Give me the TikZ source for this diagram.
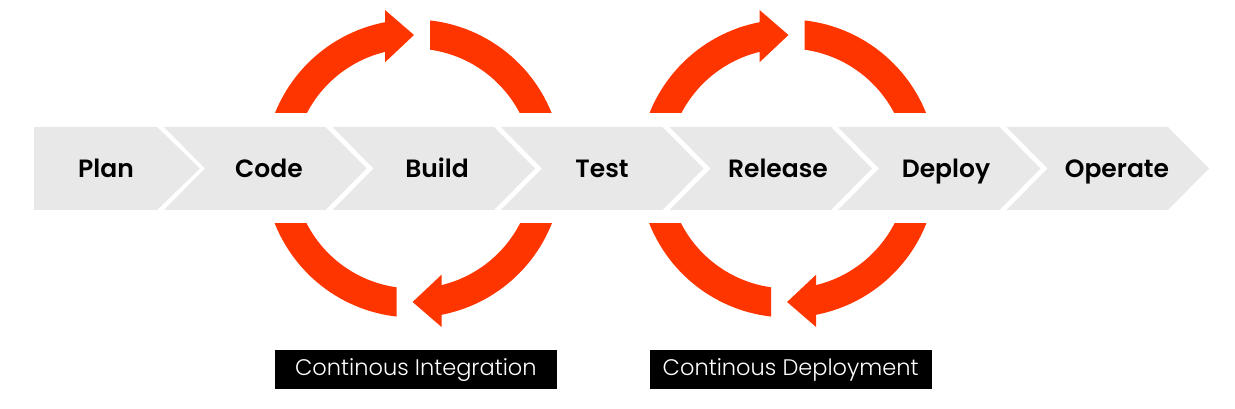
\documentclass[tikz,border=0pt]{standalone}
\usepackage{fontspec}
\setmainfont{Poppins}
\newfontfamily\stepfont{Poppins SemiBold}
\newfontfamily\boxfont{Poppins Light}
\definecolor{loopred}{RGB}{255,53,0}
\definecolor{chevgray}{RGB}{232,232,232}
\newcommand\looptop{%
  \begin{scope}
    \clip (-170,55.5) rectangle (170,175);
    \fill[arcpiece] (170:149) arc[start angle=170,end angle=100.95,radius=149]
      -- (-28.3,158.5) -- (0.7,133.5) -- (-28.3,106.2)
      -- (103.64:120) arc[start angle=103.64,end angle=170,radius=120] -- cycle;
    \fill[arcpiece] (83.56:149) arc[start angle=83.56,end angle=10,radius=149]
      -- (10:120) arc[start angle=10,end angle=82,radius=120] -- cycle;
  \end{scope}}
\begin{document}
\begin{tikzpicture}[x=1pt,y=1pt,
  chev/.style={fill=chevgray},
  arcpiece/.style={fill=loopred},
  steplabel/.style={font=\fontsize{25}{30}\selectfont\stepfont, text=black, inner sep=0pt, anchor=base},
  cibox/.style={fill=black, text=white, minimum width=282pt, minimum height=39pt, inner sep=0pt, text height=18pt, text depth=5pt, font=\fontsize{22.5}{26}\selectfont\boxfont}]
\useasboundingbox (0,0) rectangle (1235,409);
% chevrons
\fill[chev] (34,282) -- (157,282) -- (200,240.5) -- (157,199) -- (34,199) -- cycle;
\foreach \i in {1,...,6} {
  \pgfmathsetmacro\R{157+168.5*\i}
  \pgfmathsetmacro\L{157+168.5*(\i-1)+7}
  \fill[chev] (\L,282) -- (\R,282) -- (\R+41,240.5) -- (\R,199) -- (\L,199) -- (\L+41,240.5) -- cycle;
}
% loops
\begin{scope}[shift={(413.3,240.5)}] \looptop \end{scope}
\begin{scope}[shift={(413.3,240.5)},rotate=180] \looptop \end{scope}
\begin{scope}[shift={(787.8,240.5)}] \looptop \end{scope}
\begin{scope}[shift={(787.8,240.5)},rotate=180] \looptop \end{scope}
% labels
\node[steplabel] (plan) at (106,231.3) {Plan};
\node[steplabel] (code) at (269,231.3) {Code};
\node[steplabel] (build) at (437,231.3) {Build};
\node[steplabel] (test) at (602,231.3) {Test};
\node[steplabel] (release) at (778,231.3) {Release};
\node[steplabel] (deploy) at (946,231.3) {Deploy};
\node[steplabel] (operate) at (1117,231.3) {Operate};
\node[cibox] (ci) at (415.9,39.5) {Continous Integration};
\node[cibox] (cd) at (790.7,39.5) {Continous Deployment};
\end{tikzpicture}
\end{document}
